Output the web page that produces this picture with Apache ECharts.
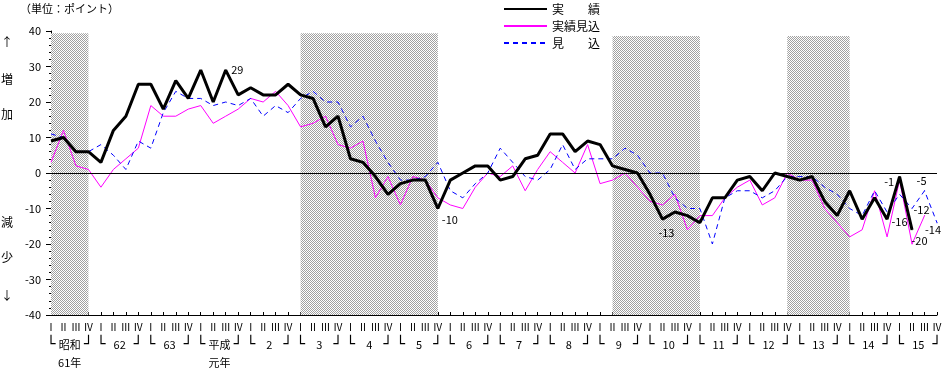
<!DOCTYPE html>
<html><head><meta charset="utf-8">
<script src="https://cdn.jsdelivr.net/npm/echarts@6/dist/echarts.min.js"></script>
<style>html,body{margin:0;padding:0;background:#fff}#c{width:945px;height:372px}</style>
</head><body><div id="c"></div>
<script>
// ---- data ----
const quarterLabels = ['Ⅰ','Ⅱ','Ⅲ','Ⅳ'];
const yearLabels = ['昭和','62','63','平成','2','3','4','5','6','7','8','9','10','11','12','13','14','15'];
const yearSubLabels = ['61年','','','元年','','','','','','','','','','','','','',''];
const seriesNames = ['実　　績','実績見込','見　　込'];
// 実績
const jisseki = [9,10,6,6,3,12,16,25,25,18,26,21,29,20,29,22,24,22,22,25,
  22,21,13,16,4,3,-1,-6,-3,-2,-2,-10,-2,0,2,2,-2,-1,4,5,
  11,11,6,9,8,2,1,0,-6,-13,-11,-12,-14,-7,-7,-2,-1,-5,0,-1,
  -2,-1,-8,-12,-5,-13,-7,-13,-1,-16];
// 実績見込
const jissekiMikomi = [3,12,2,1,-4,1,4,7,19,16,16,18,19,14,16,18,21,20,23,19,
  13,14,16,8,7,9,-7,-1,-9,-1,-2,-7,-9,-10,-4,0,-1,2,-5,1,
  6,3,0,8,-3,-2,0,-4,-8,-9,-6,-16,-12,-12,-7,-4,-2,-9,-7,0,
  -2,-2,-10,-14,-18,-16,-5,-18,-2,-20,-12];
// 見込
const mikomi = [11,10,6,6,8,5,1,9,7,17,23,21,21,19,20,19,21,16,19,17,
  21,23,20,20,13,16,9,3,-2,-2,-1,3,-5,-7,-3,0,7,3,-1,-2,
  1,8,1,4,4,4,7,5,0,0,-7,-10,-10,-20,-7,-5,-5,-7,-5,-1,
  -1,-1,-4,-6,-10,-12,-5,-11,-6,-10,-5,-14];
// recession (shaded) periods, as quarter index ranges
const recessions = [[0,3],[20,31],[45,52],[59,64]];
// value labels: [seriesIndex, quarterIndex]
const valueLabels = [[0,14],[0,31],[0,49],[0,68],[0,69],[1,69],[1,70],[2,70],[2,71]];
const yMin = -40, yMax = 40, yStep = 10;

// ---- build ----
const categories = [];
yearLabels.forEach((y, k) => quarterLabels.forEach((q, j) => categories.push(k + '-' + j)));
const halfSteps = [];
for (let i = 0; i <= (categories.length - 1) * 2; i++) halfSteps.push('h' + i);

const labelStyle = {
  '0-14': {position: 'right', distance: 5, offset: [0, 0]},
  '0-31': {position: 'bottom', distance: 5, offset: [12, 0]},
  '0-49': {position: 'bottom', distance: 5, offset: [4, 3]},
  '0-68': {position: 'left', distance: 5, offset: [0, 5]},
  '0-69': {position: 'left', distance: 4, offset: [0, -8]},
  '1-69': {position: 'right', distance: 5, offset: [-6, -3]},
  '1-70': {position: 'top', distance: 5, offset: [-3, 5]},
  '2-70': {position: 'top', distance: 5, offset: [-3, 1]},
  '2-71': {position: 'bottom', distance: 5, offset: [-4, -4]}
};
function items(arr, si) {
  return arr.map((v, i) => {
    const hit = valueLabels.some(p => p[0] === si && p[1] === i);
    if (!hit) return v;
    const ls = labelStyle[si + '-' + i];
    return {value: v, symbol: 'circle', symbolSize: 1,
      label: Object.assign({show: true, color: '#000', fontSize: 11,
        fontFamily: 'Noto Sans CJK JP'}, ls)};
  });
}

const pc = document.createElement('canvas');
pc.width = 2; pc.height = 2;
const g = pc.getContext('2d');
g.fillStyle = '#ffffff'; g.fillRect(0, 0, 2, 2);
g.fillStyle = '#a0a0a0'; g.fillRect(0, 0, 1, 1); g.fillRect(1, 1, 1, 1);

const shadeTops = [39.4, 39.4, 38.6, 38.6];
const areas = recessions.map((r, n) => [
  {xAxis: categories[r[0]], yAxis: shadeTops[n]},
  {xAxis: categories[r[1]], yAxis: yMin}
]);

const FF = 'Noto Sans CJK JP';
const chart = echarts.init(document.getElementById('c'), null, {renderer: 'canvas'});
chart.setOption({
  animation: false,
  backgroundColor: '#fff',
  textStyle: {fontFamily: FF},
  grid: {left: 51, right: 7, top: 31, bottom: 52, containLabel: false},
  legend: {
    orient: 'vertical', left: 498, top: -2, itemWidth: 43, itemHeight: 14, itemGap: 5,
    data: seriesNames,
    itemStyle: {opacity: 0},
    textStyle: {fontSize: 12, color: '#000', fontFamily: FF}
  },
  graphic: [
    {type: 'text', left: 20, top: 3, style: {text: '（単位：ポイント）', fontSize: 11, fill: '#000', fontFamily: FF}},
    {type: 'text', left: 1, top: 36, style: {text: '↑', fontSize: 12, fill: '#000', fontFamily: FF}},
    {type: 'text', left: 1, top: 73, style: {text: '増', fontSize: 12, fill: '#000', fontFamily: FF}},
    {type: 'text', left: 1, top: 108, style: {text: '加', fontSize: 12, fill: '#000', fontFamily: FF}},
    {type: 'text', left: 1, top: 216, style: {text: '減', fontSize: 12, fill: '#000', fontFamily: FF}},
    {type: 'text', left: 1, top: 251, style: {text: '少', fontSize: 12, fill: '#000', fontFamily: FF}},
    {type: 'text', left: 1, top: 289, style: {text: '↓', fontSize: 12, fill: '#000', fontFamily: FF}}
  ],
  xAxis: [{
    type: 'category', data: categories, boundaryGap: false, position: 'bottom',
    axisLine: {onZero: false, lineStyle: {color: '#000', width: 1}},
    axisTick: {show: true, inside: true, length: 3, interval: 0, lineStyle: {color: '#000'}},
    axisLabel: {interval: 0, margin: 7, fontSize: 10, color: '#000', fontFamily: FF,
      formatter: (v) => quarterLabels[+v.split('-')[1]]},
    splitLine: {show: false}
  }, {
    type: 'category', data: halfSteps, boundaryGap: false, position: 'bottom',
    axisLine: {show: false}, axisTick: {show: false}, splitLine: {show: false},
    axisLabel: {interval: 0, margin: 21, fontSize: 11, lineHeight: 18, color: '#000', fontFamily: FF,
      rich: {
        b: {fontSize: 15, lineHeight: 18, fontFamily: 'DejaVu Sans Mono', color: '#000'},
        y: {fontSize: 11, lineHeight: 18, fontFamily: FF, color: '#000'}
      },
      formatter: (v, idx) => {
        const k = Math.floor(idx / 8), r = idx % 8;
        if (r === 0) return '{b|└}';
        if (r === 6) return '{b|┘}';
        if (r === 3) return '{y|' + yearLabels[k] + '}' + (yearSubLabels[k] ? '\n{y|' + yearSubLabels[k] + '}' : '');
        return '';
      }}
  }],
  yAxis: {
    type: 'value', min: yMin, max: yMax, interval: yStep,
    axisLine: {show: true, lineStyle: {color: '#000', width: 1}},
    axisTick: {show: true, length: 5, lineStyle: {color: '#000'}},
    minorTick: {show: true, splitNumber: 5, length: 2, lineStyle: {color: '#000'}},
    axisLabel: {margin: 10, fontSize: 11, color: '#000', fontFamily: FF},
    splitLine: {show: false}
  },
  series: [{
    name: seriesNames[1], type: 'line', data: items(jissekiMikomi, 1), symbol: 'none', showSymbol: true,
    lineStyle: {color: '#ff00ff', width: 1}, itemStyle: {color: '#ff00ff'}, z: 3,
    markArea: {silent: true, itemStyle: {color: {image: pc, repeat: 'repeat'}}, data: areas},
    markLine: {silent: true, symbol: 'none', label: {show: false},
      lineStyle: {color: '#000', width: 1, type: 'solid'}, data: [{yAxis: 0}]}
  }, {
    name: seriesNames[2], type: 'line', data: items(mikomi, 2), symbol: 'none', showSymbol: true,
    lineStyle: {color: '#0000ff', width: 1, type: [5, 4]}, itemStyle: {color: '#0000ff'}, z: 4
  }, {
    name: seriesNames[0], type: 'line', data: items(jisseki, 0), symbol: 'none', showSymbol: true,
    lineStyle: {color: '#000', width: 3}, itemStyle: {color: '#000'}, z: 5
  }]
});
</script></body></html>
